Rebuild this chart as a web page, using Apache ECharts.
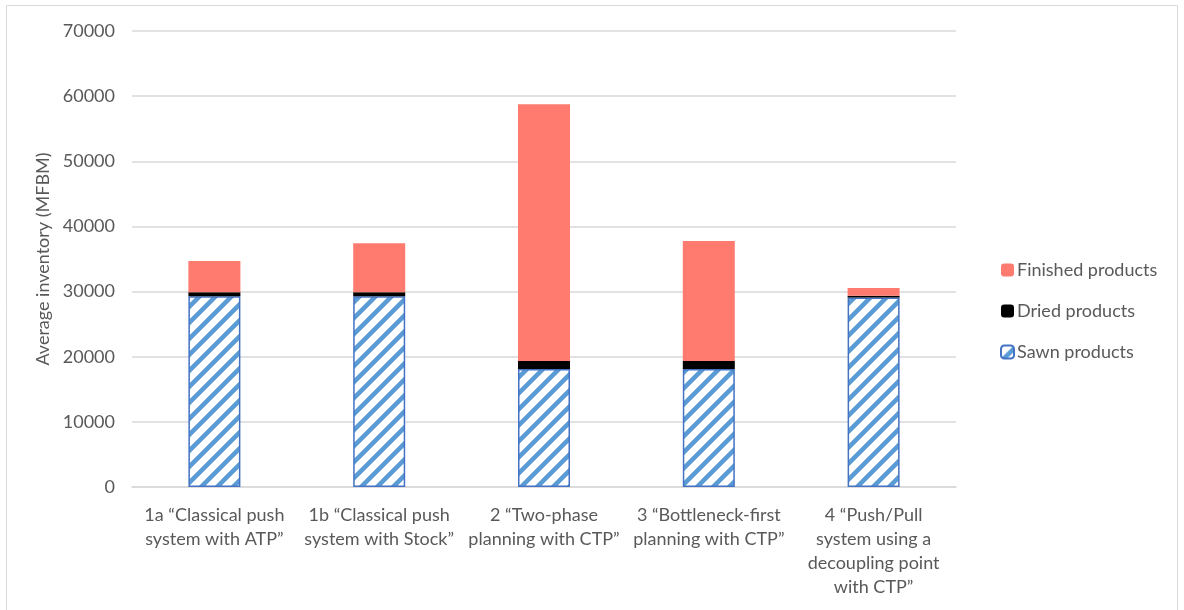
<!DOCTYPE html>
<html>
<head>
<meta charset="utf-8">
<script src="https://cdn.jsdelivr.net/npm/echarts@6/dist/echarts.min.js"></script>
<style>
  html, body { margin: 0; padding: 0; background: #fff; }
  #chart { width: 1184px; height: 610px; }
</style>
</head>
<body>
<div id="chart"></div>
<script>
// Inventory by planning approach (MFBM)
const categories = [
  '1a \u201cClassical push\nsystem with ATP\u201d',
  '1b \u201cClassical push\nsystem with Stock\u201d',
  '2 \u201cTwo-phase\nplanning with CTP\u201d',
  '3 \u201cBottleneck-first\nplanning with CTP\u201d',
  '4 \u201cPush/Pull\nsystem using a\ndecoupling point\nwith CTP\u201d'
];
const sawnProducts = [29300, 29300, 18100, 18100, 29100];
const driedProducts = [600, 600, 1250, 1250, 250];
const finishedProducts = [4800, 7500, 39400, 18400, 1200];
const yTicks = [0, 10000, 20000, 30000, 40000, 50000, 60000, 70000];

const FONT = 'Lato';
const TEXT = '#595959';

// diagonal hatch fill for the sawn-products segments
function hatchPattern() {
  const n = 16;
  const c = document.createElement('canvas');
  c.width = n; c.height = n;
  const g = c.getContext('2d');
  g.fillStyle = '#ffffff';
  g.fillRect(0, 0, n, n);
  g.strokeStyle = '#5b9bd5';
  g.lineWidth = 4.5;
  g.lineCap = 'square';
  g.beginPath();
  g.moveTo(-n, 2 * n); g.lineTo(2 * n, -n);
  g.moveTo(-2 * n, 2 * n); g.lineTo(n, -n);
  g.moveTo(0, 2 * n); g.lineTo(3 * n, -n);
  g.stroke();
  return { image: c, repeat: 'repeat' };
}

const chart = echarts.init(document.getElementById('chart'), null, { renderer: 'canvas' });

chart.setOption({
  animation: false,
  backgroundColor: '#ffffff',
  graphic: [{
    type: 'rect',
    shape: { x: 6.5, y: 5.5, width: 1171, height: 640 },
    style: { fill: 'none', stroke: '#d9d9d9', lineWidth: 1 },
    silent: true
  }],
  grid: { left: 132, right: 228, top: 31, bottom: 123 },
  legend: {
    orient: 'vertical',
    left: 995,
    top: 256,
    itemWidth: 13,
    itemHeight: 13,
    itemGap: 23,
    data: ['Finished products', 'Dried products', 'Sawn products'],
    textStyle: { fontFamily: FONT, fontSize: 18, color: TEXT, padding: [0, 0, 0, -2] }
  },
  xAxis: {
    type: 'category',
    data: categories,
    axisLine: { lineStyle: { color: '#d9d9d9', width: 1.5 } },
    axisTick: { show: false },
    axisLabel: {
      margin: 16,
      fontFamily: FONT, fontSize: 18, color: TEXT, lineHeight: 24,
      interval: 0
    }
  },
  yAxis: {
    type: 'value',
    min: yTicks[0],
    max: yTicks[yTicks.length - 1],
    interval: yTicks[1] - yTicks[0],
    name: 'Average inventory (MFBM)',
    nameLocation: 'middle',
    nameGap: 80,
    nameTextStyle: { fontFamily: FONT, fontSize: 18, color: TEXT },
    axisLine: { show: false },
    axisTick: { show: false },
    splitLine: { lineStyle: { color: '#d9d9d9', width: 1.5 } },
    axisLabel: {
      margin: 17, fontFamily: FONT, fontSize: 18, color: TEXT,
      formatter: v => String(v)
    }
  },
  series: [
    {
      name: 'Sawn products',
      type: 'bar',
      stack: 'inv',
      barWidth: 52,
      data: sawnProducts,
      itemStyle: { color: hatchPattern(), borderColor: '#4472c4', borderWidth: 1.5 }
    },
    {
      name: 'Dried products',
      type: 'bar',
      stack: 'inv',
      data: driedProducts,
      itemStyle: { color: '#000000' }
    },
    {
      name: 'Finished products',
      type: 'bar',
      stack: 'inv',
      data: finishedProducts,
      itemStyle: { color: '#ff7b70' }
    }
  ]
});
</script>
</body>
</html>
